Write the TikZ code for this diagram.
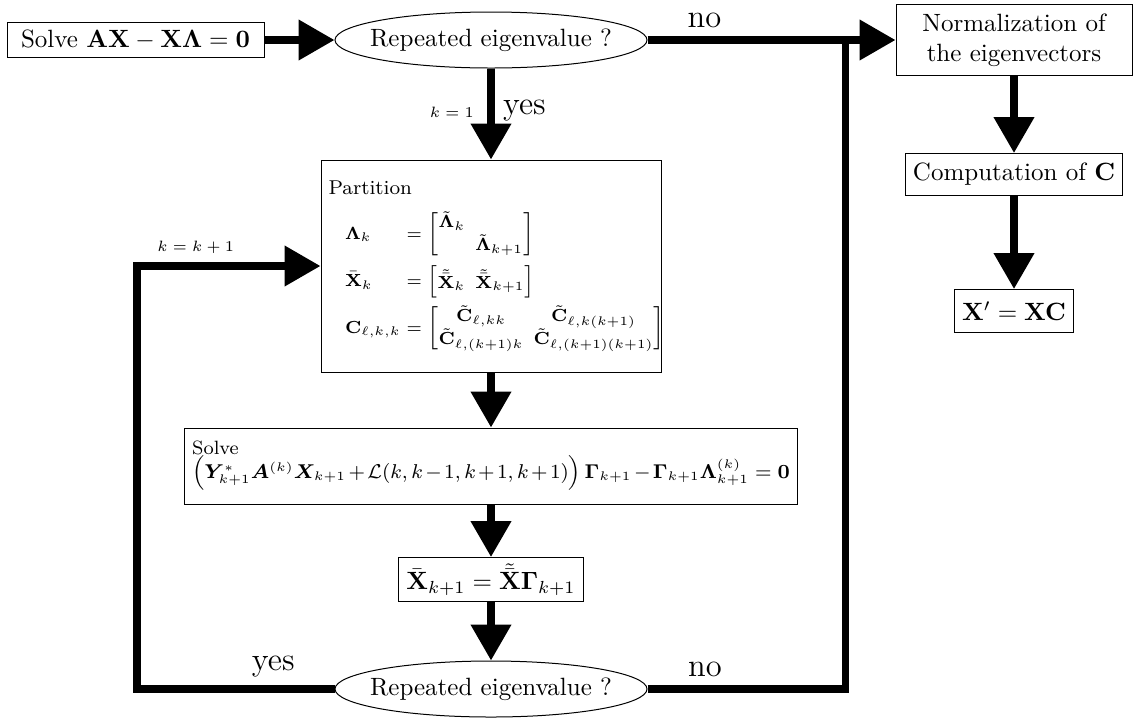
\documentclass[tikz,border=0pt]{standalone}
\usepackage{amsmath,amsfonts}
\usepackage{bm}
\usetikzlibrary{arrows.meta,positioning,shapes.geometric,calc}

\tikzset{
  procbox/.style={draw, thin, rectangle, inner sep=3pt},
  decision/.style={draw, thin, ellipse, inner sep=0pt, minimum width=124.8pt, minimum height=22.4pt},
  flow/.style={line width=3pt, -{Triangle[length=14.4pt,width=15.6pt]}},
  link/.style={line width=3pt},
  lbl/.style={font=\fontsize{13}{15}\selectfont},
  klbl/.style={font=\fontsize{6.5}{8}\selectfont},
}

\begin{document}
\begin{tikzpicture}
  \useasboundingbox (0,0) rectangle (454.8pt,-287.2pt);

  % Main column
  \node[decision] at (196.4pt,-16pt) (rep1) {\makebox[0pt]{Repeated eigenvalue ?}};
  \node[procbox, left=28pt of rep1, minimum width=102.8pt, minimum height=14pt] (solveA) {Solve $\mathbf{AX}-\mathbf{X}\bm{\Lambda}=\mathbf{0}$};

  \node[procbox, below=36.4pt of rep1, font=\footnotesize, text width=130pt, minimum height=84.8pt, align=left] (part) {Partition\\[6pt]
    \hspace*{6.6pt}\fontsize{7.2}{9}\selectfont\setlength{\arraycolsep}{2pt}$\begin{array}{@{}l@{}l@{}}
      \bm{\Lambda}_k & {}= \begin{bmatrix}\tilde{\bm{\Lambda}}_k & \\ & \tilde{\bm{\Lambda}}_{k+1}\end{bmatrix}\\[8pt]
      \bar{\mathbf{X}}_k & {}= \begin{bmatrix}\tilde{\bar{\mathbf{X}}}_k & \tilde{\bar{\mathbf{X}}}_{k+1}\end{bmatrix}\\[5pt]
      \mathbf{C}_{\ell,k,k} & {}= \begin{bmatrix}\tilde{\mathbf{C}}_{\ell,kk} & \tilde{\mathbf{C}}_{\ell,k(k+1)}\\ \tilde{\mathbf{C}}_{\ell,(k+1)k} & \tilde{\mathbf{C}}_{\ell,(k+1)(k+1)}\end{bmatrix}
    \end{array}$};

  \node[procbox, below=22pt of part, font=\fontsize{7.7}{9.5}\selectfont, minimum height=30.4pt, align=left] (solveB) {Solve\\
    \medmuskip=2mu $\Bigl(\bm{Y}^{*}_{k+1}\bm{A}^{(k)}\bm{X}_{k+1}+\mathcal{L}(k,k-1,k+1,k+1)\Bigr)\,\bm{\Gamma}_{k+1}-\bm{\Gamma}_{k+1}\bm{\Lambda}^{(k)}_{k+1}=\mathbf{0}$};

  \node[procbox, below=21pt of solveB, inner ysep=2pt, minimum height=17.6pt] (xbar) {$\bar{\mathbf{X}}_{k+1}=\tilde{\bar{\mathbf{X}}}\bm{\Gamma}_{k+1}$};
  \node[decision, below=23.4pt of xbar] (rep2) {\makebox[0pt]{Repeated eigenvalue ?}};

  % Right column
  \node[procbox, right=99.2pt of rep1, align=center, minimum width=94.4pt, minimum height=28.4pt] (norm) {Normalization of\\the eigenvectors};
  \node[procbox, below=30.8pt of norm, minimum width=84pt, minimum height=16.8pt] (comp) {Computation of $\mathbf{C}$};
  \node[procbox, below=37.2pt of comp, minimum height=17pt] (xfin) {$\mathbf{X}'=\mathbf{XC}$};

  % Connectors
  \draw[flow] (solveA) -- (rep1);
  \draw[flow] (rep1) -- node[lbl, above, pos=0.23] {no} (norm);
  \draw[flow] (rep1) -- node[lbl, right, pos=0.46] {yes} node[klbl, left, pos=0.48, xshift=-2pt] {$k=1$} (part);
  \draw[flow] (part) -- (solveB);
  \draw[flow] (solveB) -- (xbar);
  \draw[flow] (xbar) -- (rep2);
  \draw[flow] (norm) -- (comp);
  \draw[flow] (comp) -- (xfin);

  % Loops back
  \coordinate[left=79pt of rep2.west] (loopL);
  \coordinate[left=20pt of norm.west] (loopR);
  \draw[flow] (rep2.west) -- node[lbl, above, pos=0.31] {yes} (loopL) |- node[klbl, above, pos=0.66] {$k=k+1$} (part.west);
  \draw[link] (rep2.east) -- node[lbl, above, pos=0.29] {no} (rep2.east -| loopR) -- (loopR);

\end{tikzpicture}
\end{document}
